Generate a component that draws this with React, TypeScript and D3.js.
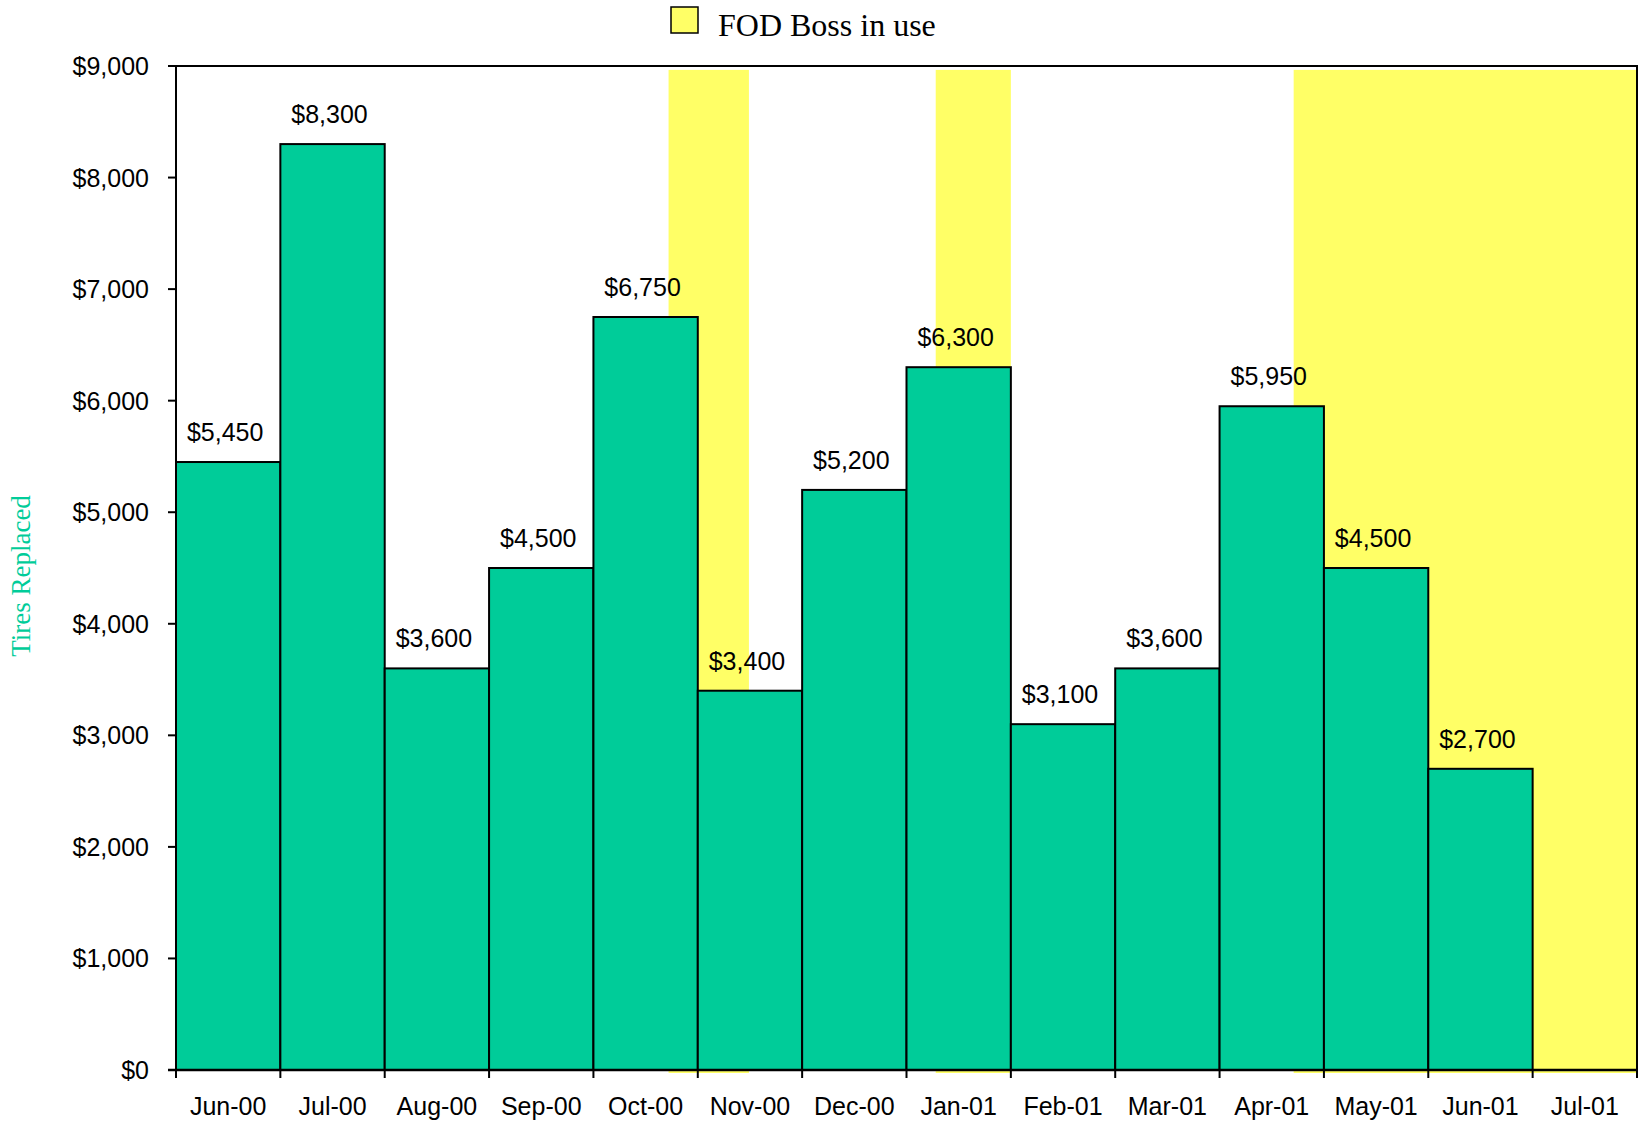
import React from "react";
import * as d3 from "d3";

// monthly cost of tires replaced
const months = [
  "Jun-00", "Jul-00", "Aug-00", "Sep-00", "Oct-00", "Nov-00", "Dec-00",
  "Jan-01", "Feb-01", "Mar-01", "Apr-01", "May-01", "Jun-01", "Jul-01",
];
const costs = [5450, 8300, 3600, 4500, 6750, 3400, 5200, 6300, 3100, 3600, 5950, 4500, 2700, 0];

// periods when FOD Boss was in use, in month-index units
const fodStart = [4.72, 7.28, 10.71];
const fodEnd = [5.49, 8.0, 14.0];
const fodTop = 8965;

const yTicks = [0, 1000, 2000, 3000, 4000, 5000, 6000, 7000, 8000, 9000];

const GREEN = "#00CC99";
const YELLOW = "#FFFF66";

export default function App() {
  const width = 1641;
  const height = 1124;
  const margin = { left: 176, right: 4, top: 66, bottom: 54 };

  const x = d3
    .scaleLinear()
    .domain([0, months.length])
    .range([margin.left, width - margin.right]);
  const y = d3
    .scaleLinear()
    .domain([0, 9000])
    .range([height - margin.bottom, margin.top]);

  const money = d3.format("$,");
  const sans = "'Liberation Sans', Arial, sans-serif";
  const serif = "'Liberation Serif', 'Times New Roman', serif";

  return (
    <svg
      width={width}
      height={height}
      style={{ position: "absolute", left: 0, top: 0, background: "#fff" }}
    >
      {/* legend */}
      <rect x={671} y={7} width={27} height={26} fill={YELLOW} stroke="#000" strokeWidth={1.5} />
      <text x={718} y={36} fontFamily={serif} fontSize={32} fill="#000">
        FOD Boss in use
      </text>

      {/* FOD Boss bands */}
      {fodStart.map((s, i) => (
        <rect
          key={"fod" + i}
          x={x(s)}
          y={y(fodTop)}
          width={x(fodEnd[i]) - x(s)}
          height={y(0) + 3 - y(fodTop)}
          fill={YELLOW}
        />
      ))}

      {/* bars */}
      {costs.map((v, i) =>
        v > 0 ? (
          <rect
            key={"bar" + i}
            x={x(i)}
            y={y(v)}
            width={x(i + 1) - x(i)}
            height={y(0) - y(v)}
            fill={GREEN}
            stroke="#000"
            strokeWidth={2}
          />
        ) : null
      )}

      {/* frame */}
      <path
        d={`M${x(0)},${y(9000)}H${x(months.length)}V${y(0)}`}
        fill="none"
        stroke="#000"
        strokeWidth={2}
      />
      <line x1={x(0)} x2={x(0)} y1={y(9000)} y2={y(0)} stroke="#000" strokeWidth={2} />
      <line x1={x(0) - 8} x2={x(months.length)} y1={y(0)} y2={y(0)} stroke="#000" strokeWidth={2.5} />

      {/* y axis */}
      {yTicks.map((t) => (
        <g key={"yt" + t}>
          <line x1={x(0) - 8} x2={x(0)} y1={y(t)} y2={y(t)} stroke="#000" strokeWidth={2} />
          <text
            x={x(0) - 27}
            y={y(t) + 9}
            textAnchor="end"
            fontFamily={sans}
            fontSize={25}
            fill="#000"
          >
            {money(t)}
          </text>
        </g>
      ))}
      <text
        transform={`translate(30,${576}) rotate(-90)`}
        textAnchor="middle"
        fontFamily={serif}
        fontSize={27}
        fill={GREEN}
      >
        Tires Replaced
      </text>

      {/* x axis */}
      {d3.range(months.length + 1).map((i) => (
        <line
          key={"xt" + i}
          x1={x(i)}
          x2={x(i)}
          y1={y(0)}
          y2={y(0) + 8}
          stroke="#000"
          strokeWidth={2}
        />
      ))}
      {months.map((m, i) => (
        <text
          key={"xl" + i}
          x={x(i + 0.5)}
          y={y(0) + 45}
          textAnchor="middle"
          fontFamily={sans}
          fontSize={25}
          fill="#000"
        >
          {m}
        </text>
      ))}

      {/* value labels */}
      {costs.map((v, i) =>
        v > 0 ? (
          <text
            key={"vl" + i}
            x={x(i + 0.5) - 3}
            y={y(v) - 21}
            textAnchor="middle"
            fontFamily={sans}
            fontSize={25}
            fill="#000"
          >
            {money(v)}
          </text>
        ) : null
      )}
    </svg>
  );
}
